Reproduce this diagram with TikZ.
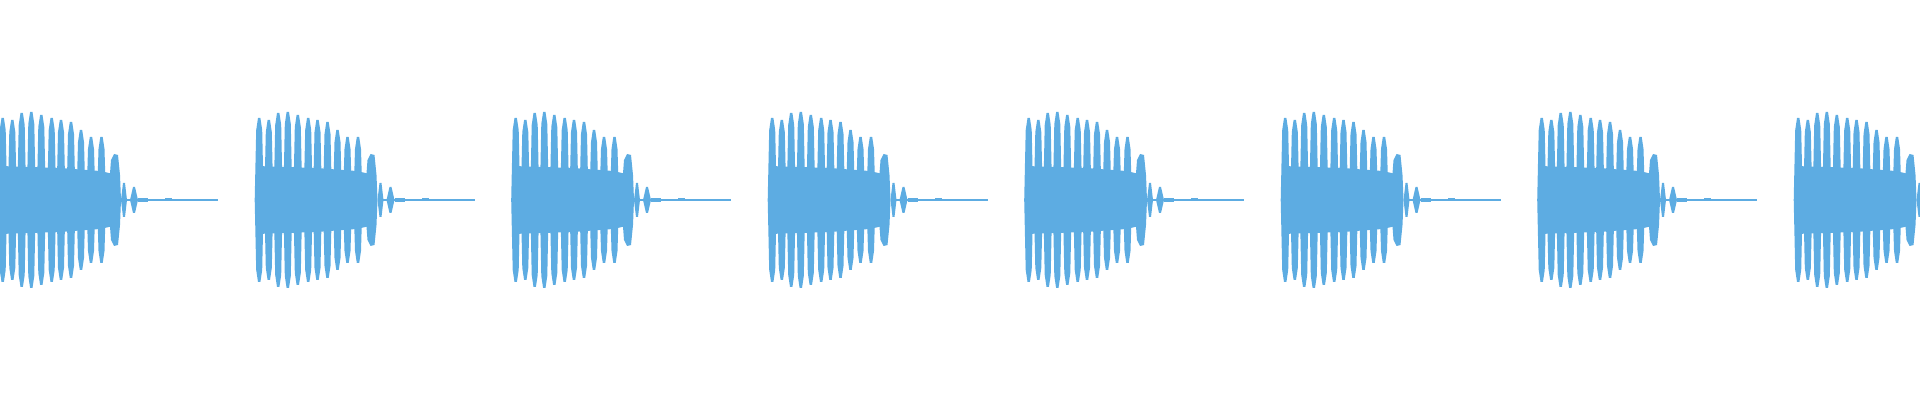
\documentclass[tikz,border=0pt]{standalone}
\definecolor{wave}{RGB}{93,172,226}
\begin{document}
\begin{tikzpicture}[x=0.5pt,y=-0.5pt,wv/.style={fill=wave,draw=none}]
\useasboundingbox (0,0) rectangle (1920,400);
\clip (0,0) rectangle (1920,400);
\foreach \k in {0,...,7}{
  \begin{scope}[xshift={\k*256.5*0.5pt}]
    % dense core
    \fill[wv] (0,166) -- (60,168) -- (100,171) -- (118,175) -- (120,200) -- (118,225) -- (100,229) -- (60,232) -- (0,234) -- cycle;
    % main lobes
    \foreach \c/\h in {2.7/82,12.3/80,21.7/87,31.3/88,41.3/85,51.7/82,61/80,71/78,81/70,91/63,101.5/63}{
      \fill[wv] (\c-4.5,200) -- (\c-3,200-\h+12) -- (\c-1.2,200-\h) -- (\c+1.2,200-\h) -- (\c+3,200-\h+12) -- (\c+4.5,200)
        -- (\c+3,200+\h-12) -- (\c+1.2,200+\h) -- (\c-1.2,200+\h) -- (\c-3,200+\h-12) -- cycle;
    }
    % decaying lobes
    \fill[wv] (108,200) -- (111,160) -- (114,154) -- (118,155) -- (120,175) -- (121,200) -- (120,225) -- (118,245) -- (114,246) -- (111,240) -- cycle;
    \fill[wv] (121,200) -- (123,183) -- (125,183) -- (127,200) -- (125,217) -- (123,217) -- cycle;
    \fill[wv] (130,200) -- (133,187) -- (135,187) -- (138,200) -- (135,213) -- (133,213) -- cycle;
    % tail
    \fill[wv] (126,199.2) rectangle (218,200.8);
    \fill[wv] (138,198) rectangle (148,202);
    \fill[wv] (165,198.5) rectangle (172,201.5);
  \end{scope}
}
\end{tikzpicture}
\end{document}
